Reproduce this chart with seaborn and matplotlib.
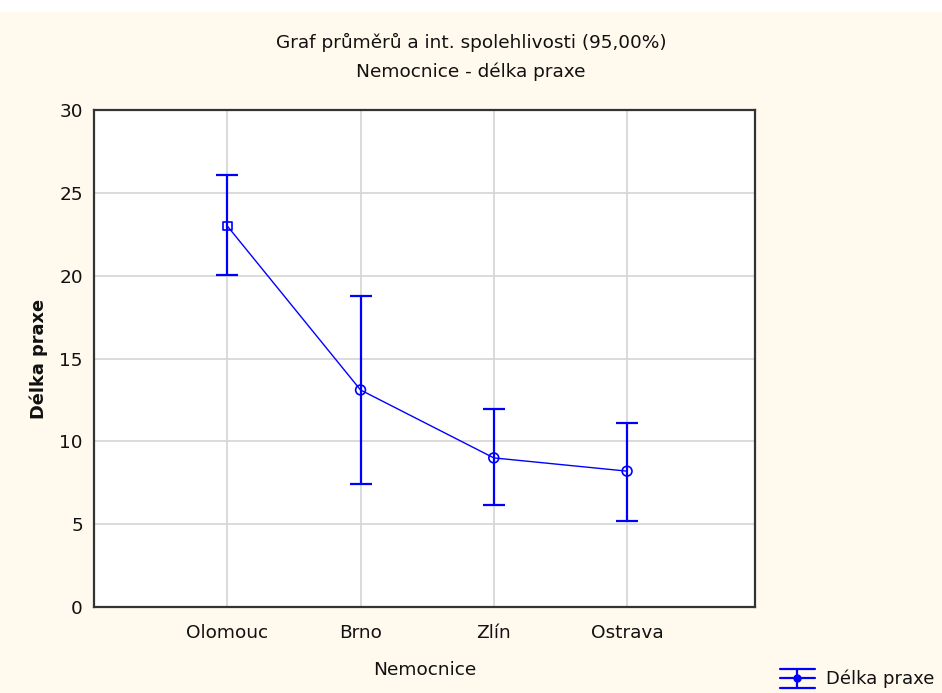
import numpy as np
import pandas as pd
import matplotlib
matplotlib.use("Agg")
import matplotlib.pyplot as plt
import seaborn as sns
from matplotlib.patches import Rectangle
from matplotlib.lines import Line2D

# ========= DATA =========
hospitals = ["Olomouc", "Brno", "Zlín", "Ostrava"]
means = [23.0, 13.1, 9.0, 8.2]
ci_low = [20.05, 7.45, 6.15, 5.2]
ci_high = [26.1, 18.75, 11.95, 11.1]
yticks = [0, 5, 10, 15, 20, 25, 30]

BLUE = "#0000ff"
CREAM = "#fff9ee"
FS = 13.3
W, H = 942, 693

sns.set_theme(style="white")
plt.rcParams['font.family'] = ['DejaVu Sans']

fig = plt.figure(figsize=(W / 100, H / 100), dpi=100, facecolor=CREAM)
# white strip at the very top
fig.patches.append(Rectangle((0, 1 - 12 / H), 1, 12 / H, transform=fig.transFigure,
                             facecolor="white", edgecolor="none", zorder=0))

ax = fig.add_axes([94 / W, 1 - 607 / H, (755 - 94) / W, (607 - 110) / H])
ax.set_facecolor("white")

df = pd.DataFrame({"Nemocnice": hospitals, "Délka praxe": means})
sns.lineplot(data=df, x="Nemocnice", y="Délka praxe", sort=False, color=BLUE,
             lw=1, ax=ax, zorder=3)

x = np.arange(len(hospitals))
m = np.array(means)
yerr = [m - np.array(ci_low), np.array(ci_high) - m]
ax.errorbar(x, m, yerr=yerr, fmt="none", ecolor=BLUE, elinewidth=1.6,
            capsize=8, capthick=1.6, zorder=4)
# markers: first square, others circles (hollow)
ax.scatter(x[:1], m[:1], marker="s", s=40, facecolor="none", edgecolor=BLUE, lw=1.2, zorder=5)
ax.scatter(x[1:], m[1:], marker="o", s=50, facecolor="none", edgecolor=BLUE, lw=1.2, zorder=5)

ax.set_xlim(-1.0, 3.96)
ax.set_ylim(0, 30)
ax.set_xticks(x)
ax.set_xticklabels(hospitals)
ax.set_yticks(yticks)
ax.grid(True, color="#d4d4d4", lw=1.2)
ax.set_axisbelow(True)
for s in ax.spines.values():
    s.set_color("#333333")
    s.set_linewidth(1.6)
ax.tick_params(axis="both", direction="in", length=4, width=1, colors="#222222",
               labelsize=FS, labelcolor="#111111")
ax.tick_params(axis="x", pad=12)
ax.tick_params(axis="y", pad=8)

ax.set_xlabel("Nemocnice", fontsize=FS, labelpad=14, color="#111111")
ax.set_ylabel("Délka praxe", fontsize=FS - 0.5, labelpad=8, color="#111111",
              fontweight="bold")

fig.text(0.5, 1 - 42 / H, "Graf průměrů a int. spolehlivosti (95,00%)",
         ha="center", va="center", fontsize=FS, color="#111111")
fig.text(0.5, 1 - 72 / H, "Nemocnice - délka praxe",
         ha="center", va="center", fontsize=FS, color="#111111")

# legend glyph in the bottom-right corner (figure pixels)
def px(xp, yp):
    return xp / W, 1 - yp / H

for yy in (669, 678, 688):
    (x0, y0), (x1, y1) = px(780, yy), px(815, yy)
    fig.add_artist(Line2D([x0, x1], [y0, y1], color=BLUE, lw=1.6))
(x0, y0), (x1, y1) = px(797, 669), px(797, 688)
fig.add_artist(Line2D([x0, x1], [y0, y1], color=BLUE, lw=1.6))
cx, cy = px(797, 678)
fig.add_artist(Line2D([cx], [cy], marker="o", ms=5, color=BLUE))
tx, ty = px(826, 679)
fig.text(tx, ty, "Délka praxe", ha="left", va="center", fontsize=FS - 0.3, color="#111111")

fig.savefig("out.png", dpi=100, facecolor=CREAM)
